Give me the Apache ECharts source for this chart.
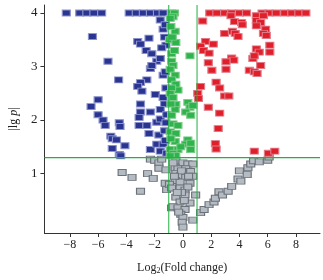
<!DOCTYPE html>
<html>
<head>
<meta charset="utf-8">
<script src="https://cdn.jsdelivr.net/npm/echarts@6/dist/echarts.min.js"></script>
<style>
  html, body { margin: 0; padding: 0; background: #fff; }
  #container { width: 323px; height: 280px; }
</style>
</head>
<body>
<div id="container"></div>
<script>
var dom = document.getElementById("container");
var myChart = echarts.init(dom);

// [log2 fold change, |lg p|]
var downData = [
  [-8.25, 4], [-7.3, 4], [-6.8, 4], [-6.3, 4], [-5.75, 4], [-3.8, 4], [-3.3, 4], [-2.8, 4], [-2.3, 4], [-1.8, 4], [-1.4, 4],
  [-6.4, 3.56], [-5.3, 3.1], [-4.55, 2.75], [-3.2, 3.47], [-3.0, 3.42], [-2.4, 3.53], [-2.6, 3.3], [-2.2, 3.24],
  [-1.6, 3.87], [-1.4, 3.7], [-1.25, 3.78], [-1.3, 3.55], [-1.2, 3.4], [-1.5, 3.35], [-1.85, 3.1], [-1.6, 3.15],
  [-2.3, 2.96], [-2.2, 3.02], [-1.4, 2.84], [-1.25, 2.9], [-2.55, 2.75], [-3.0, 2.7], [-3.2, 2.63], [-2.9, 2.54],
  [-1.95, 2.48], [-1.4, 2.42], [-1.2, 2.6], [-1.3, 2.3],
  [-6.0, 2.38], [-6.5, 2.25], [-6.0, 2.1], [-5.65, 2.0], [-5.5, 1.9], [-4.5, 1.95], [-4.45, 1.88], [-5.1, 1.7],
  [-3.0, 2.3], [-2.3, 2.15], [-1.6, 2.2], [-3.0, 2.15], [-3.1, 2.05], [-3.1, 1.9], [-2.55, 1.9], [-1.85, 1.96],
  [-1.6, 2.02], [-2.4, 1.75], [-1.7, 1.72], [-1.2, 1.95], [-1.3, 1.8], [-1.15, 2.1],
  [-5.0, 1.65], [-4.7, 1.63], [-5.0, 1.47], [-4.1, 1.52], [-4.5, 1.36], [-4.4, 1.33], [-2.3, 1.45], [-1.85, 1.55],
  [-1.4, 1.55], [-1.6, 1.42], [-1.15, 1.38], [-1.25, 1.62]
];

var upData = [
  [1.9, 4], [2.4, 4], [2.95, 4], [3.45, 4], [4.0, 4], [4.5, 4], [5.6, 4], [6.1, 4], [6.6, 4], [7.2, 4], [7.7, 4], [8.2, 4], [8.7, 4],
  [1.4, 3.85], [3.4, 3.95], [3.65, 3.84], [4.15, 3.82], [4.2, 3.78], [5.2, 3.95], [5.2, 3.86], [5.7, 3.95], [5.5, 3.82],
  [5.2, 3.76], [5.85, 3.7], [5.7, 3.62], [5.9, 3.58], [2.95, 3.62], [3.5, 3.66], [3.7, 3.62], [3.9, 3.56], [1.6, 3.47],
  [2.15, 3.42], [1.25, 3.38], [1.45, 3.3], [1.85, 3.25], [6.15, 3.4], [6.15, 3.27], [5.2, 3.33], [5.4, 3.27], [4.95, 3.15],
  [5.05, 3.2], [3.45, 3.16], [3.6, 3.12], [3.05, 3.09], [1.8, 3.07], [5.5, 3.02], [2.05, 2.93], [3.05, 2.95], [4.7, 2.93],
  [5.05, 2.9], [5.25, 2.87],
  [1.25, 2.63], [1.05, 2.5], [1.1, 2.4], [2.35, 2.71], [2.6, 2.6], [2.95, 2.45], [3.25, 2.45], [1.8, 2.24], [2.6, 2.13],
  [2.5, 1.84], [2.3, 1.56], [2.35, 1.46], [5.05, 1.42], [6.05, 1.38], [6.5, 1.42]
];

var midData = [
  [-0.8, 4.0], [-0.6, 4.0], [-0.7, 3.93], [-0.9, 3.9], [-0.55, 3.66], [-0.85, 3.75], [-0.95, 3.5], [-0.5, 3.45],
  [-0.75, 3.55], [0.5, 3.2], [-0.8, 3.24], [-0.6, 3.3], [-0.8, 3.1], [-0.7, 3.02], [-0.9, 2.95], [-0.55, 2.84],
  [-0.8, 2.75], [-0.5, 2.67], [-0.35, 2.56], [-0.8, 2.6], [-0.9, 2.5], [-0.7, 2.42], [-0.5, 2.29], [-0.55, 2.2],
  [-0.85, 2.3], [0.35, 2.33], [0.5, 2.24], [0.7, 2.27], [0.2, 2.15], [0.55, 2.09], [-0.8, 2.09], [-0.7, 1.93],
  [-0.35, 1.9], [-0.9, 1.78], [-0.5, 1.75], [-0.55, 1.6], [-0.85, 1.65], [0.35, 1.63], [0.2, 1.55], [0.55, 1.57],
  [0.55, 1.45], [-0.9, 1.45], [-0.35, 1.45], [-0.15, 1.5], [-0.7, 1.38], [-0.5, 1.34], [-0.9, 1.33]
];

var nsData = [
  [-4.3, 1.02], [-3.6, 0.93], [-3.0, 0.67], [-2.5, 1.0], [-2.1, 0.91], [-2.3, 1.27], [-2.0, 1.25], [-1.7, 1.2],
  [-1.7, 1.1], [-1.2, 1.07], [-1.25, 0.82], [-1.15, 0.7], [-0.8, 0.36], [-1.5, 1.27],
  [-0.5, 1.24], [0, 1.2], [0.35, 1.18], [0.7, 1.18], [-0.55, 1.11], [-0.35, 1.09], [0.2, 1.09], [0.55, 1.04],
  [-0.5, 1.0], [-0.15, 0.96], [0.2, 0.93], [0.7, 0.95], [-0.55, 0.87], [-0.2, 0.84], [0.5, 0.82], [-0.95, 0.8],
  [-0.8, 0.73], [-0.2, 0.73], [0.15, 0.69], [-0.5, 0.56], [0.15, 0.6], [0.9, 0.6], [0.5, 0.45], [-0.2, 0.47],
  [-0.7, 0.38], [-0.35, 0.36], [0.15, 0.33], [-0.15, 0.24], [0, 0.18], [-0.05, 0.09], [0, 0.0], [0.7, 0.13],
  [-0.3, 0.28], [0.35, 0.75], [-0.7, 1.2], [0.1, 0.5], [-0.1, 0.65], [-0.4, 0.65], [-0.1, 1.05], [0.4, 0.95], [-0.6, 0.95],
  [1.25, 0.27], [1.5, 0.33], [1.85, 0.42], [2.2, 0.47], [2.3, 0.54], [2.55, 0.66], [2.8, 0.6], [3.2, 0.67],
  [3.45, 0.76], [3.9, 0.9], [4.1, 0.86], [4.0, 1.05], [4.55, 0.98], [4.6, 1.11], [4.8, 1.18], [5.0, 1.24],
  [5.4, 1.22], [6.0, 1.25], [6.1, 1.31]
];

var xTicks = [-8, -6, -4, -2, 0, 2, 4, 6, 8];
var yTicks = [1, 2, 3, 4];
var fcCut = [-1, 1];
var pCut = 1.3;

var xMin = -9.8, xMax = 9.7;
var yMin = -0.11, yMax = 4.15;

var serif = 'Liberation Serif';
var axisColor = '#333';
var cutColor = '#22b040';

function dots(data, fill, border, z) {
  return {
    type: 'scatter',
    data: data,
    symbol: 'rect',
    symbolSize: [8, 6],
    z: z,
    itemStyle: { color: fill, borderColor: border, borderWidth: 1, opacity: 1 },
    emphasis: { disabled: true }
  };
}

function cutLine(pts, w) {
  return {
    type: 'line',
    data: pts,
    z: 6,
    symbol: 'none',
    silent: true,
    lineStyle: { color: cutColor, width: w, type: 'solid', opacity: 1 },
    itemStyle: { color: cutColor }
  };
}

var series = [
  dots(nsData, '#b4bbc2', '#6b7279', 2),
  dots(downData, '#2a3592', '#8c93cc', 3),
  dots(upData, '#e01f2b', '#e07a86', 3),
  dots(midData, '#2fb34c', '#7ccc88', 4),
  cutLine([[fcCut[0], yMin], [fcCut[0], yMax]], 1),
  cutLine([[fcCut[1], yMin], [fcCut[1], yMax]], 1),
  cutLine([[xMin, pCut], [xMax, pCut]], 1.3)
];

var option = {
  backgroundColor: '#fff',
  animation: false,
  grid: { left: 38, right: 3, top: 5, bottom: 41 },
  xAxis: {
    type: 'value',
    min: xMin,
    max: xMax,
    name: 'Log{s|2}(Fold change)',
    nameLocation: 'middle',
    nameGap: 28,
    nameTextStyle: {
      fontFamily: serif, fontSize: 12, color: '#222',
      rich: { s: { fontFamily: serif, fontSize: 8, color: '#222', verticalAlign: 'bottom', padding: [6, 0, 0, 0] } }
    },
    axisLine: { onZero: false, lineStyle: { color: axisColor, width: 1 } },
    axisTick: { show: true, length: 4, inside: false, customValues: xTicks, lineStyle: { color: axisColor } },
    axisLabel: {
      customValues: xTicks,
      fontFamily: serif, fontSize: 12, color: '#222', margin: 6,
      formatter: function (v) { return v < 0 ? '\u2212' + (-v) : String(v); }
    },
    splitLine: { show: false }
  },
  yAxis: {
    type: 'value',
    min: yMin,
    max: yMax,
    name: '|lg {i|p}|',
    nameLocation: 'middle',
    nameRotate: 90,
    nameGap: 22,
    nameTextStyle: {
      fontFamily: serif, fontSize: 12, color: '#222',
      rich: { i: { fontFamily: serif, fontStyle: 'italic', fontSize: 12, color: '#222' } }
    },
    axisLine: { show: true, onZero: false, lineStyle: { color: axisColor, width: 1 } },
    axisTick: { show: true, length: 4, customValues: yTicks, lineStyle: { color: axisColor } },
    axisLabel: {
      customValues: yTicks,
      fontFamily: serif, fontSize: 13, color: '#222', margin: 7
    },
    splitLine: { show: false }
  },
  series: series
};

myChart.setOption(option, true);
window.onresize = myChart.resize;
</script>
</body>
</html>
